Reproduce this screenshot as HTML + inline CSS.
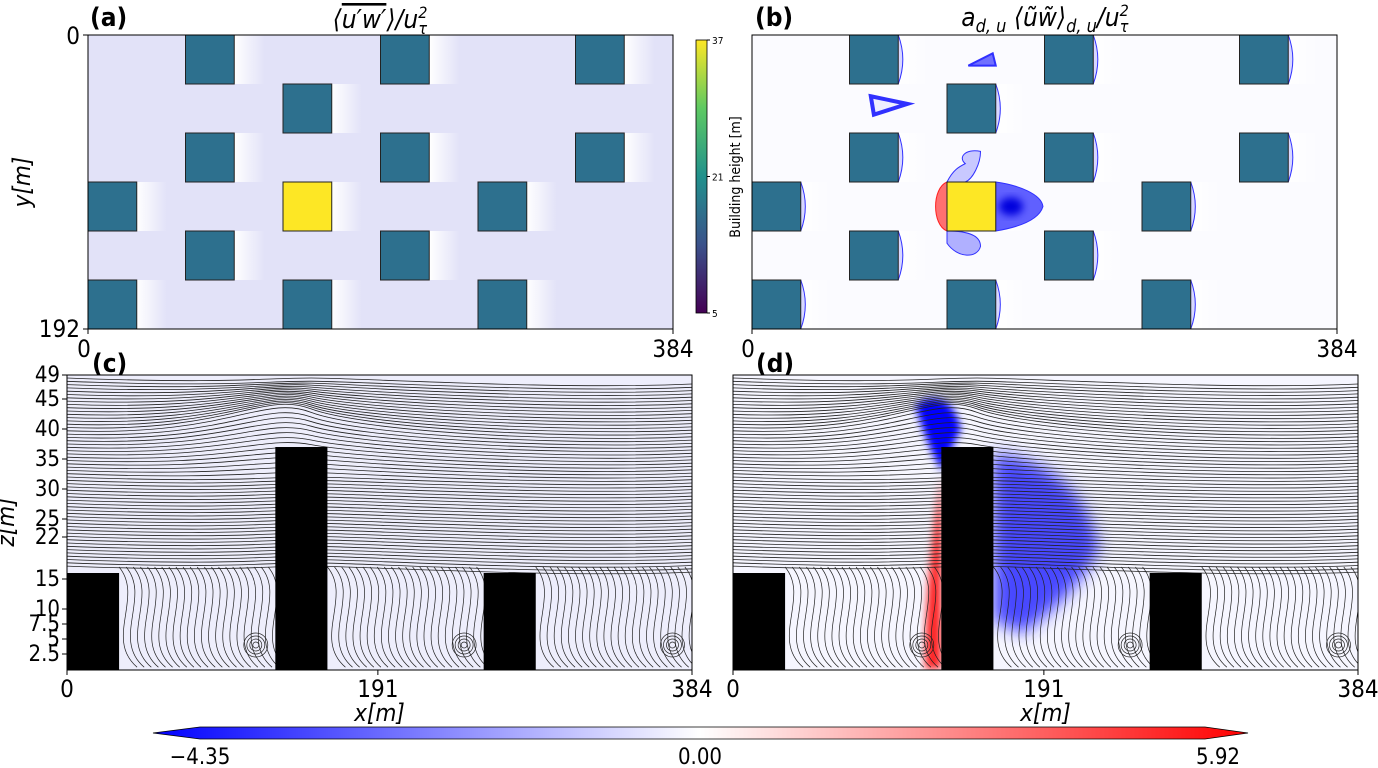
<!DOCTYPE html>
<html><head><meta charset="utf-8"><style>
body{margin:0;background:#fff;width:1378px;height:768px;overflow:hidden;font-family:"Liberation Sans","DejaVu Sans",sans-serif}
svg{display:block}
text{font-family:"Liberation Sans Narrow","DejaVu Sans Condensed","Liberation Sans",sans-serif}
</style></head><body>
<svg id="fig" width="1378" height="768" viewBox="0 0 1378 768">
<defs>
<linearGradient id="vir" x1="0" y1="1" x2="0" y2="0">
<stop offset="0" stop-color="#440154"/><stop offset="0.25" stop-color="#3b528b"/><stop offset="0.5" stop-color="#21918c"/><stop offset="0.75" stop-color="#5ec962"/><stop offset="1" stop-color="#fde725"/></linearGradient>
<linearGradient id="bwr" x1="0" y1="0" x2="1" y2="0">
<stop offset="0" stop-color="#0000ff"/><stop offset="0.5" stop-color="#ffffff"/><stop offset="1" stop-color="#ff0000"/></linearGradient>
<radialGradient id="blueBlob" cx="0.3"><stop offset="0" stop-color="#0000e0"/><stop offset="0.6" stop-color="#5050ff"/><stop offset="1" stop-color="#c8c8ff" stop-opacity="0.6"/></radialGradient>
<radialGradient id="redBlob"><stop offset="0" stop-color="#ff0000"/><stop offset="1" stop-color="#ffc8c8" stop-opacity="0.5"/></radialGradient>
<linearGradient id="wake" x1="0" y1="0" x2="1" y2="0"><stop offset="0" stop-color="#fff"/><stop offset="1" stop-color="#fff" stop-opacity="0"/></linearGradient>
<filter id="blur" x="-30%" y="-30%" width="160%" height="160%"><feGaussianBlur stdDeviation="8"/></filter>
<filter id="blur2" x="-30%" y="-30%" width="160%" height="160%"><feGaussianBlur stdDeviation="4"/></filter>
<clipPath id="clipC"><rect x="67" y="375" width="625" height="295"/></clipPath>
<clipPath id="clipD"><rect x="733" y="375" width="625" height="295"/></clipPath>
</defs>
<g id="root"></g>
</svg>
<script>
// building footprints (m): x, y (from top), and which is tall
const bldX = [64,192,320,128,64,192,320,0,128,256,64,192,0,128,256];
const bldY = [0,0,0,32,64,64,64,96,96,96,128,128,160,160,160];
const bldTall = [0,0,0,0,0,0,0,0,1,0,0,0,0,0,0];
const bldSize = 32;
// section buildings (m): x start, height
const secX = [0,128,256];
const secH = [16,37,16];
const secW = 32;
const zTicks = [49,45,40,35,30,25,22,15,10,7.5,5,2.5];
const xTicks = [0,191,384];
const heightTicks = [5,21,37];
const cbTicks = [-4.35,0.00,5.92];

const NS='http://www.w3.org/2000/svg';
const root=document.getElementById('root');
function el(tag,attrs,parent,txt){const e=document.createElementNS(NS,tag);for(const k in attrs)e.setAttribute(k,attrs[k]);if(txt!==undefined)e.textContent=txt;(parent||root).appendChild(e);return e;}

function plan(px,name,isB){
  const x0=px, y0=35, W=585, H=294;
  const sx=m=>x0+m*W/384, sy=m=>y0+m*H/192;
  const g=el('g',{});
  
  
  el('rect',{x:x0,y:y0,width:W,height:H,fill:isB?'#fbfbff':'#e2e2f8'},g);
  for(let i=0;i<bldX.length;i++){
    el('rect',{x:sx(bldX[i]+bldSize),y:sy(bldY[i]),width:sx(20)-x0,height:sy(bldSize)-y0,fill:'url(#wake)'},g);
    if(isB){
      el('path',{d:`M${sx(bldX[i]+bldSize)} ${sy(bldY[i])} q${sx(6)-x0} ${(sy(bldSize)-y0)/2} 0 ${sy(bldSize)-y0}`,fill:'#d8d8ff',stroke:'#3030ff','stroke-width':1},g);
    }
  }
  if(isB){
    el('path',{d:`M${sx(160)} ${sy(96)} C${sx(175)} ${sy(98)} ${sx(190)} ${sy(104)} ${sx(191)} ${sy(112)} C${sx(188)} ${sy(122)} ${sx(172)} ${sy(126)} ${sx(160)} ${sy(128)}Z`,fill:'#6060ff',stroke:'#3030ff'},g);
    el('ellipse',{cx:sx(170),cy:sy(112),rx:12,ry:9,fill:'#0000dd',filter:'url(#blur2)'},g);
    el('path',{d:`M${sx(128)} ${sy(96)} C${sx(118)} ${sy(100)} ${sx(118)} ${sy(124)} ${sx(128)} ${sy(128)}Z`,fill:'#ff7070',stroke:'#ff2020'},g);
    el('path',{d:`M${sx(128)} ${sy(96)} C${sx(132)} ${sy(88)} ${sx(136)} ${sy(86)} ${sx(140)} ${sy(84)} C${sx(135)} ${sy(80)} ${sx(140)} ${sy(74)} ${sx(150)} ${sy(76)} C${sx(150)} ${sy(84)} ${sx(145)} ${sy(94)} ${sx(140)} ${sy(96)}Z`,fill:'#c8c8ff',stroke:'#3030ff'},g);
    el('path',{d:`M${sx(128)} ${sy(128)} C${sx(140)} ${sy(128)} ${sx(150)} ${sy(130)} ${sx(150)} ${sy(138)} C${sx(148)} ${sy(146)} ${sx(135)} ${sy(146)} ${sx(128)} ${sy(136)}Z`,fill:'#b0b0ff',stroke:'#3030ff'},g);
    el('path',{d:`M${sx(78)} ${sy(40)} L${sx(102)} ${sy(45)} L${sx(80)} ${sy(52)}Z`,fill:'#eeeeff',stroke:'#3030ff','stroke-width':4},g);
    el('path',{d:`M${sx(142)} ${sy(20)} L${sx(158)} ${sy(12)} L${sx(160)} ${sy(20)}Z`,fill:'#7070ff',stroke:'#3030ff','stroke-width':2},g);
  }
  for(let i=0;i<bldX.length;i++){
    const r=el('rect',{x:sx(bldX[i]),y:sy(bldY[i]),width:sx(bldSize)-x0,height:sy(bldSize)-y0,fill:bldTall[i]?'#fde725':'#2d708e',stroke:'#222','stroke-width':1},g);
    
    
  }
  el('rect',{x:x0,y:y0,width:W,height:H,fill:'none',stroke:'#000','stroke-width':1},g);
  el('line',{x1:x0,y1:y0+H,x2:x0,y2:y0+H+5,stroke:'#000'},g);
  el('line',{x1:x0+W,y1:y0+H,x2:x0+W,y2:y0+H+5,stroke:'#000'},g);
  el('text',{x:x0-4,y:y0+H+28,'font-size':24,'text-anchor':'middle'},g,'0');
  el('text',{x:x0+W,y:y0+H+28,'font-size':24,'text-anchor':'middle'},g,'384');
}
plan(88,'panel-a-map',false);
plan(752,'panel-b-map',true);
el('text',{x:80,y:44,'font-size':24,'text-anchor':'end'},root,'0');
el('text',{x:80,y:337,'font-size':24,'text-anchor':'end'},root,'192');
el('line',{x1:83,y1:35,x2:88,y2:35,stroke:'#000'});el('line',{x1:83,y1:329,x2:88,y2:329,stroke:'#000'});
el('text',{x:30,y:182,'font-size':24,'text-anchor':'middle',transform:'rotate(-90 30 182)','font-style':'italic'},root,'y[m]');
el('text',{x:90,y:26,'font-size':26,'font-weight':'bold'},root,'(a)');
el('text',{x:755,y:26,'font-size':26,'font-weight':'bold'},root,'(b)');
const t1=el('text',{x:380,y:28,'font-size':26,'text-anchor':'middle','font-style':'italic'});
t1.innerHTML='⟨<tspan text-decoration="overline">u′w′</tspan>⟩/u<tspan font-size="16" dy="-10">2</tspan><tspan font-size="16" dx="-9" dy="16">τ</tspan>';
const t2=el('text',{x:1045,y:26,'font-size':26,'text-anchor':'middle','font-style':'italic'});
t2.innerHTML='a<tspan font-size="18" dy="6">d, u</tspan><tspan dy="-6"> ⟨ũw̃⟩</tspan><tspan font-size="18" dy="6">d, u</tspan><tspan dy="-6">/u</tspan><tspan font-size="16" dy="-10">2</tspan><tspan font-size="16" dx="-9" dy="16">τ</tspan>';
const hb=el('rect',{x:696,y:40,width:11,height:273,fill:'url(#vir)',stroke:'#000','stroke-width':0.8});

heightTicks.forEach(t=>{const y=313-(t-5)/32*273;el('line',{x1:707,y1:y,x2:710,y2:y,stroke:'#000'});el('text',{x:712,y:y+4,'font-size':10},root,String(t));});
el('text',{x:740,y:177,'font-size':14,'text-anchor':'middle',transform:'rotate(-90 740 177)'},root,'Building height [m]');

function section(x0,name,isD){
  const y0=375,W=625,H=295;
  const sx=m=>x0+m*W/384, sz=z=>669-z*6;
  const g=el('g',{});
  
  el('rect',{x:x0,y:y0,width:W,height:H,fill:isD?'#f6f6ff':'#eeeefc'},g);
  const cg=el('g',{'clip-path':isD?'url(#clipD)':'url(#clipC)'},g);
  if(isD){
    el('path',{d:`M${sx(118)} ${sz(45)} Q${sx(135)} ${sz(46)} ${sx(140)} ${sz(40)} L${sx(128)} ${sz(33)} Q${sx(118)} ${sz(38)} ${sx(112)} ${sz(44)}Z`,fill:'#0000ff',filter:'url(#blur2)'},cg);
    el('path',{d:`M${sx(160)} ${sz(36)} Q${sx(215)} ${sz(34)} ${sx(225)} ${sz(20)} Q${sx(210)} ${sz(12)} ${sx(178)} ${sz(6)} L${sx(160)} ${sz(8)}Z`,fill:'#2a2aff',filter:'url(#blur)',opacity:0.85},cg);
    el('path',{d:`M${sx(128)} ${sz(32)} Q${sx(118)} ${sz(15)} ${sx(118)} ${sz(0)} L${sx(128)} ${sz(0)}Z`,fill:'#ff0000',filter:'url(#blur2)',opacity:0.85},cg);
  }
  for(let z=48.5;z>=17;z-=0.55){
    const bump=z>30?Math.max(0,8-Math.abs(z-40))*0.8:0;
    el('path',{d:`M${x0} ${sz(z)} C${sx(100)} ${sz(z-1)} ${sx(120)} ${sz(z+bump)} ${sx(150)} ${sz(z+bump*0.5)} S${sx(300)} ${sz(z-2)} ${x0+W} ${sz(z-1)}`,fill:'none',stroke:'#222','stroke-width':0.8},cg);
  }
  const cav=[[32,128],[160,256],[288,384]];
  cav.forEach(c=>{
    const n=22;
    for(let k=0;k<n;k++){
      const a=sx(c[0])+k*((sx(c[1])-sx(c[0]))/n);
      el('path',{d:`M${a} ${sz(17)} C${a+25} ${sz(12)} ${a-15} ${sz(5)} ${a+18} ${sz(0.3)}`,fill:'none',stroke:'#222','stroke-width':0.7},cg);
    }
    for(let r=3;r<=12;r+=3) el('circle',{cx:sx(c[1]-12),cy:sz(4),r:r,fill:'none',stroke:'#222','stroke-width':0.7},cg);
  });
  for(let i=0;i<secX.length;i++){
    const r=el('rect',{x:sx(secX[i]),y:sz(secH[i]),width:sx(secW)-x0,height:sz(0)-sz(secH[i])+2,fill:'#000'},cg);
    
  }
  el('rect',{x:x0,y:y0,width:W,height:H,fill:'none',stroke:'#000'},g);
  xTicks.forEach(t=>{const x=sx(t);el('line',{x1:x,y1:670,x2:x,y2:675,stroke:'#000'},g);el('text',{x:x,y:697,'font-size':24,'text-anchor':'middle'},g,String(t));});
  el('text',{x:sx(192),y:721,'font-size':24,'text-anchor':'middle','font-style':'italic'},g,'x[m]');
  if(!isD){zTicks.forEach(t=>{const y=sz(t);el('line',{x1:x0-5,y1:y,x2:x0,y2:y,stroke:'#000'},g);el('text',{x:x0-7,y:y+7,'font-size':22,'text-anchor':'end'},g,String(t));});
  el('text',{x:14,y:522,'font-size':24,'text-anchor':'middle','font-style':'italic',transform:'rotate(-90 14 522)'},g,'z[m]');}
}
section(67,'panel-c-section',false);
section(733,'panel-d-section',true);
el('text',{x:92,y:372,'font-size':26,'font-weight':'bold'},root,'(c)');
el('text',{x:756,y:372,'font-size':26,'font-weight':'bold'},root,'(d)');
const cb=el('path',{d:'M153 733 L200 727 L1205 727 L1248 733 L1205 739 L200 739Z',fill:'url(#bwr)',stroke:'#000','stroke-width':0.8});

const cbX=v=>v<0?700+v/4.35*500:700+v/5.92*518;
cbTicks.forEach(t=>{el('text',{x:cbX(t),y:764,'font-size':22,'text-anchor':'middle'},root,(t<0?'−':'')+Math.abs(t).toFixed(2));});
</script>
</body></html>
